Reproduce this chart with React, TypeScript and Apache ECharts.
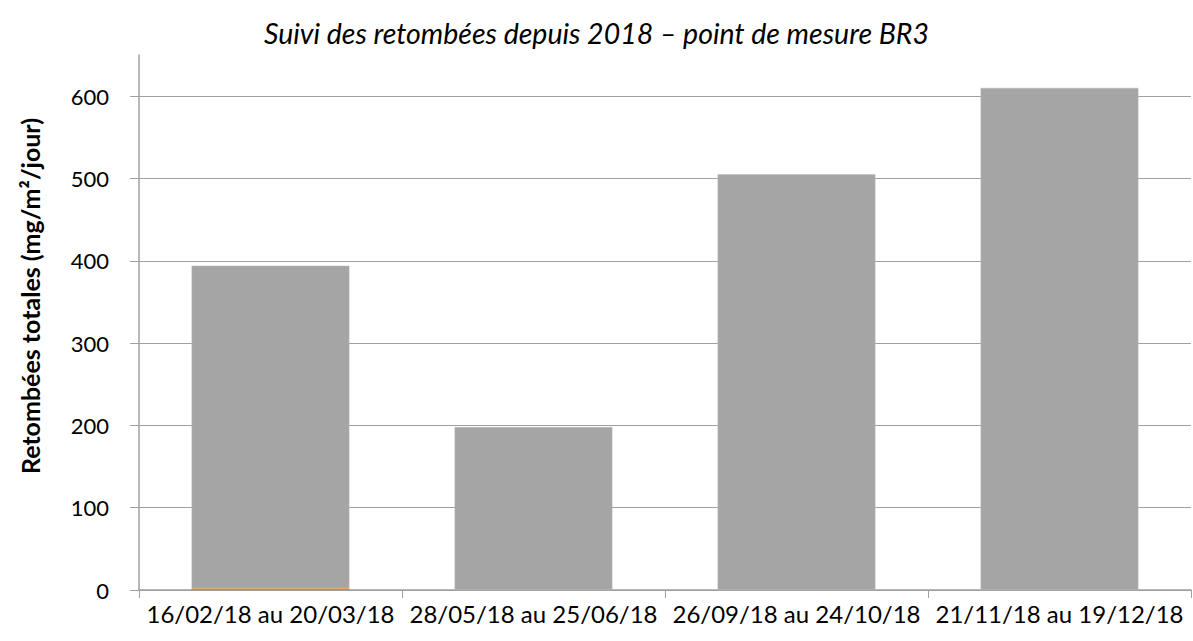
import React, { useEffect, useRef } from "react";
import * as echarts from "echarts";

const categories = [
  "16/02/18 au 20/03/18",
  "28/05/18 au 25/06/18",
  "26/09/18 au 24/10/18",
  "21/11/18 au 19/12/18",
];
const orangeValues = [2, 0, 0, 0];
const grayValues = [392, 198, 505, 610];
const yTicks = [0, 100, 200, 300, 400, 500, 600];

const FONT = "Lato";

export default function App() {
  const ref = useRef<HTMLDivElement>(null);
  useEffect(() => {
    if (!ref.current) return;
    const chart = echarts.init(ref.current, null, { renderer: "svg" });
    chart.setOption({
      animation: false,
      title: {
        text: "Suivi des retombées depuis 2018 – point de mesure BR3",
        left: "center",
        top: 13,
        textStyle: { fontFamily: FONT, fontStyle: "italic", fontWeight: "normal", fontSize: 28.5, color: "#000" },
      },
      graphic: [
        {
          type: "text",
          x: 30,
          y: 296,
          rotation: Math.PI / 2,
          style: {
            text: "Retombées totales (mg/m²/jour)",
            fontFamily: FONT,
            fontSize: 25,
            fontWeight: "bold",
            fill: "#000",
            textAlign: "center",
            textVerticalAlign: "middle",
          },
        },
      ],
      grid: { left: 139, right: 2, top: 55, bottom: 51 },
      xAxis: {
        type: "category",
        data: categories,
        axisLine: { lineStyle: { color: "#a0a0a0", width: 1.5 } },
        axisTick: { show: true, length: 8, lineStyle: { color: "#a0a0a0" } },
        axisLabel: { fontFamily: FONT, fontSize: 24, color: "#000", margin: 11, interval: 0 },
      },
      yAxis: {
        type: "value",
        min: yTicks[0],
        max: 650,
        interval: 100,
        axisLine: { show: true, lineStyle: { color: "#a0a0a0", width: 1.5 } },
        axisTick: { show: true, length: 9, inside: false, lineStyle: { color: "#a0a0a0" } },
        axisLabel: { fontFamily: FONT, fontSize: 22, color: "#000", margin: 30, showMaxLabel: false },
        splitLine: {
          lineStyle: {
            color: ["#a0a0a0", "#a0a0a0", "#a0a0a0", "#a0a0a0", "#a0a0a0", "#a0a0a0", "#a0a0a0", "rgba(0,0,0,0)"],
            width: 1.2,
          },
        },
      },
      series: [
        {
          type: "bar",
          stack: "t",
          data: orangeValues,
          barWidth: "60%",
          itemStyle: { color: "#ed7d31" },
        },
        {
          type: "bar",
          stack: "t",
          data: grayValues,
          barWidth: "60%",
          itemStyle: { color: "#a5a5a5", borderColor: "#bdbdbd", borderWidth: 0.5 },
        },
      ],
    });
    return () => chart.dispose();
  }, []);
  return <div ref={ref} style={{ width: 1193, height: 641, position: "absolute", left: 0, top: 0 }} />;
}
